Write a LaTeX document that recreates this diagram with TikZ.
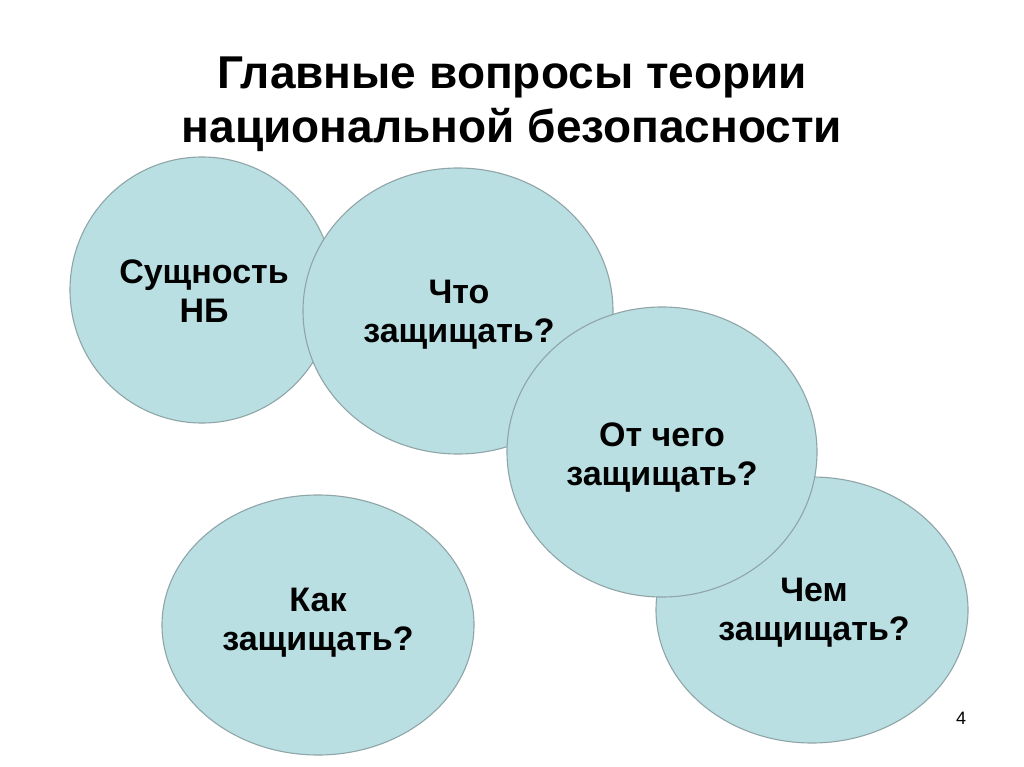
\documentclass[tikz,border=0pt]{standalone}
\usepackage{fontspec}
\setmainfont{Liberation Sans}
\begin{document}
\begin{tikzpicture}[x=1pt,y=-1pt,
  bubble/.style={draw=bordergray, line width=1.1pt, fill=bubblefill},
  btext/.style={align=center, inner sep=0pt, font=\fontsize{34}{39}\selectfont\bfseries, text=black},
  ttext/.style={align=center, inner sep=0pt, font=\fontsize{46}{54}\selectfont\bfseries, text=black}]
\definecolor{bubblefill}{HTML}{B9DFE2}
\definecolor{bordergray}{HTML}{8FA5A8}
\useasboundingbox (0,0) rectangle (1024,767);
\fill[white] (0,0) rectangle (1024,767);
\node[ttext] (title) at (512,104) {Главные вопросы теории\\национальной безопасности};
\draw[bubble] (202,290) ellipse [x radius=132, y radius=133];
\draw[bubble] (458,311) ellipse [x radius=155, y radius=143];
\draw[bubble] (812,610) ellipse [x radius=156, y radius=133];
\draw[bubble] (662,452) ellipse [x radius=155, y radius=145];
\draw[bubble] (318,625) ellipse [x radius=156, y radius=130];
\node[btext] (s) at (204,291) {Сущность\\НБ};
\node[btext] (w) at (459,315) {Что\\защищать?};
\node[btext] (f) at (662,458) {От чего\\защищать?};
\node[btext] (c) at (814,613) {Чем\\защищать?};
\node[btext] (k) at (318,623) {Как\\защищать?};
\node[font=\fontsize{18}{20}\selectfont] (p) at (961,718) {4};
\end{tikzpicture}
\end{document}
